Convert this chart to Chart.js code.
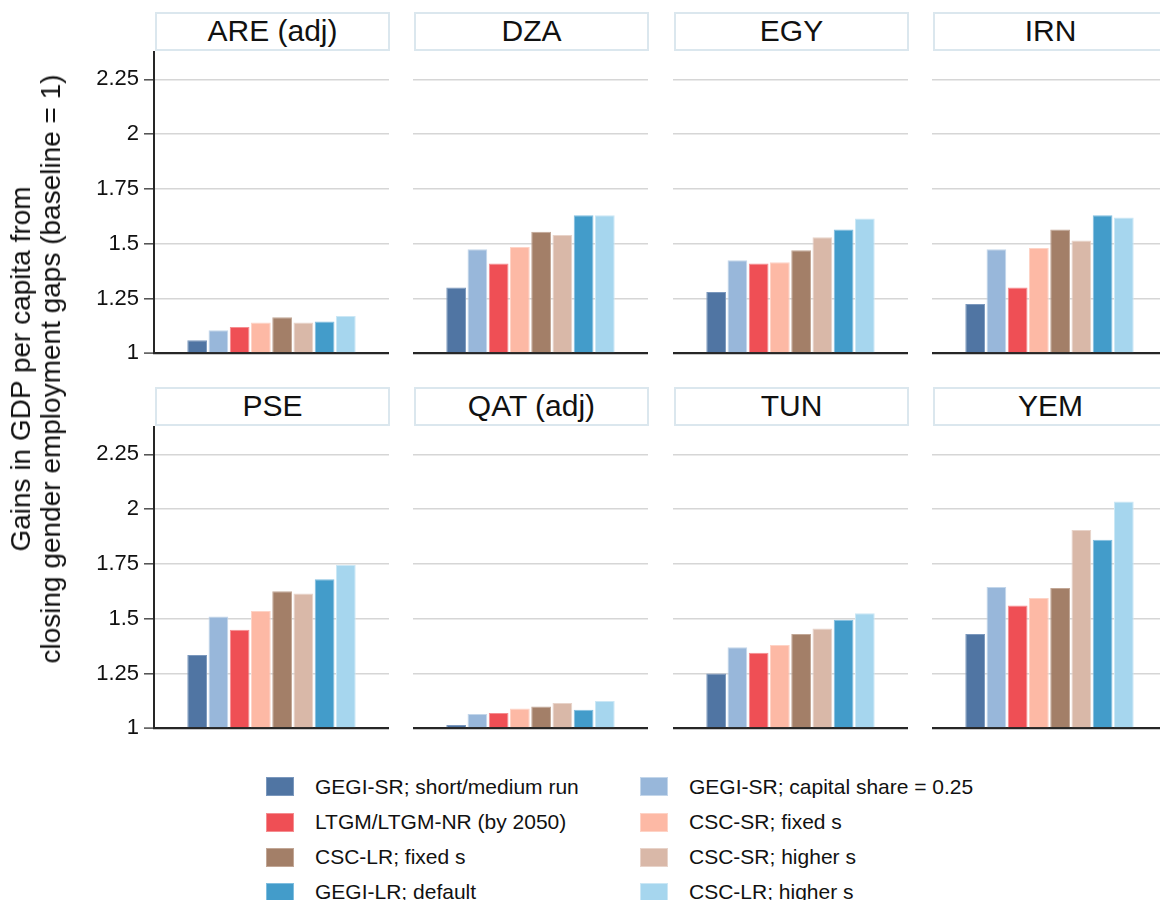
<!DOCTYPE html>
<html>
<head>
<meta charset="utf-8">
<script src="https://cdn.jsdelivr.net/npm/chart.js@4.4.1/dist/chart.umd.min.js"></script>
<style>
  html, body { margin: 0; padding: 0; background: #ffffff; overflow: hidden; }
  body { width: 1160px; height: 900px; position: relative; font-family: "Liberation Sans", Arial, Helvetica, sans-serif; color: #111; }
  canvas { position: absolute; }
  .strip { position: absolute; box-sizing: border-box; height: 39px; border: 2px solid #dbe7ee; background: #fff;
           font-size: 30px; line-height: 33px; text-align: center; color: #111; white-space: nowrap; }
  .ytitle { position: absolute; font-size: 28px; line-height: 30px; text-align: center; white-space: nowrap; color: #111;
            transform: translate(-50%, -50%) rotate(-90deg); }
  .leg { position: absolute; font-size: 21px; line-height: 24px; white-space: nowrap; color: #111; }
  .sw { position: absolute; width: 28px; height: 19px; box-sizing: border-box; border: 1px solid; }
</style>
</head>
<body>
<script>
// Panels (one per country), in reading order
const countries = ['ARE (adj)', 'DZA', 'EGY', 'IRN', 'PSE', 'QAT (adj)', 'TUN', 'YEM'];

// Scenario names, in bar order
const seriesNames = [
  'GEGI-SR; short/medium run',
  'GEGI-SR; capital share = 0.25',
  'LTGM/LTGM-NR (by 2050)',
  'CSC-SR; fixed s',
  'CSC-LR; fixed s',
  'CSC-SR; higher s',
  'GEGI-LR; default',
  'CSC-LR; higher s'
];

// GDP per capita gains relative to baseline (= 1), one value per country
const gegiShortRun     = [1.06, 1.30, 1.28, 1.225, 1.335, 1.015, 1.25, 1.43];
const gegiCapShare     = [1.105, 1.475, 1.425, 1.475, 1.51, 1.065, 1.37, 1.645];
const ltgm2050         = [1.12, 1.41, 1.41, 1.30, 1.45, 1.07, 1.345, 1.56];
const cscShortFixed    = [1.14, 1.485, 1.415, 1.48, 1.535, 1.09, 1.38, 1.595];
const cscLongFixed     = [1.165, 1.555, 1.47, 1.565, 1.625, 1.10, 1.43, 1.64];
const cscShortHigher   = [1.14, 1.54, 1.53, 1.515, 1.615, 1.115, 1.455, 1.905];
const gegiLongDefault  = [1.145, 1.63, 1.565, 1.63, 1.68, 1.085, 1.495, 1.86];
const cscLongHigher    = [1.17, 1.63, 1.615, 1.62, 1.745, 1.125, 1.525, 2.035];

const seriesValues = [gegiShortRun, gegiCapShare, ltgm2050, cscShortFixed,
                      cscLongFixed, cscShortHigher, gegiLongDefault, cscLongHigher];

const seriesColors = ['#5075a3', '#98b7da', '#ef4f55', '#fdb9a5', '#a37f68', '#d9b8a8', '#439cca', '#a6d6ee'];
const seriesEdges  = ['#7b98bd', '#c3d6ea', '#f58d90', '#fed3c6', '#c2a796', '#e8d3c9', '#80bedf', '#cbe7f5'];

// Value axis
const yTicks      = [1, 1.25, 1.5, 1.75, 2, 2.25];
const yTickLabels = ['1', '1.25', '1.5', '1.75', '2', '2.25'];
const yMin = 1, yMax = 2.375;

const yTitleLines = ['Gains in GDP per capita from', 'closing gender employment gaps (baseline = 1)'];

// Layout of the 4 x 2 panel grid
const colLeft = [154, 413, 673, 932];
const plotW = 235;
const rowTop = [52, 427];
const plotH = 301.3;
const axisW = 94;
const pad = 28;   // room above/below the plot area for the end tick labels
const FONT = '"Liberation Sans", Arial, Helvetica, sans-serif';

countries.forEach((country, k) => {
  const c = k % 4, r = Math.floor(k / 4);
  const withAxis = c === 0;

  // panel header strip
  const strip = document.createElement('div');
  strip.className = 'strip';
  strip.textContent = country;
  strip.style.left = (colLeft[c] + 1) + 'px';
  strip.style.width = (plotW) + 'px';
  strip.style.top = (rowTop[r] - 40) + 'px';

  const cv = document.createElement('canvas');
  const left = withAxis ? colLeft[c] - axisW : colLeft[c];
  const width = withAxis ? axisW + plotW : plotW;
  const height = Math.round(plotH + 2 * pad);
  cv.width = width; cv.height = height;
  cv.style.left = left + 'px';
  cv.style.top = (rowTop[r] - pad) + 'px';
  cv.style.width = width + 'px';
  cv.style.height = height + 'px';
  document.body.appendChild(cv);
  document.body.appendChild(strip);

  new Chart(cv.getContext('2d'), {
    type: 'bar',
    data: {
      labels: [country],
      datasets: seriesNames.map((name, i) => ({
        label: name,
        data: [seriesValues[i][k]],
        base: 1,
        backgroundColor: seriesColors[i],
        borderColor: seriesEdges[i],
        borderWidth: 1,
        borderSkipped: 'bottom',
        barPercentage: 0.93,
        categoryPercentage: 0.723
      }))
    },
    options: {
      responsive: false,
      animation: false,
      devicePixelRatio: 1,
      layout: {
        autoPadding: false,
        padding: { top: pad, bottom: height - pad - plotH, left: 0, right: 0 }
      },
      plugins: { legend: { display: false }, tooltip: { enabled: false } },
      scales: {
        x: { display: false },
        y: {
          min: yMin,
          max: yMax,
          afterBuildTicks: s => { s.ticks = yTicks.map(v => ({ value: v })); },
          afterFit: s => { s.width = withAxis ? axisW : 0; },
          ticks: {
            display: withAxis,
            padding: 5,
            color: '#111',
            font: { family: FONT, size: 22 },
            callback: v => yTickLabels[yTicks.indexOf(v)]
          },
          grid: {
            color: ctx => (ctx.tick && ctx.tick.value === 1) ? '#262626' : '#d6d6d6',
            lineWidth: ctx => (ctx.tick && ctx.tick.value === 1) ? 2.2 : 1.6,
            drawTicks: withAxis,
            tickLength: 10,
            tickColor: '#4d4d4d',
            tickWidth: 1.5
          },
          border: { display: withAxis, color: '#262626', width: 2 }
        }
      }
    }
  });
});

// shared y-axis title
const yt = document.createElement('div');
yt.className = 'ytitle';
yt.innerHTML = yTitleLines.join('<br>');
yt.style.left = '36px';
yt.style.top = '369px';
document.body.appendChild(yt);

// legend: two columns, filled row by row in bar order
const legCols = [266, 640];
const legTextOff = 49;
const legRowY = [786.5, 822, 857, 892];
seriesNames.forEach((name, i) => {
  const col = i % 2, row = Math.floor(i / 2);
  const sw = document.createElement('div');
  sw.className = 'sw';
  sw.style.left = legCols[col] + 'px';
  sw.style.top = (legRowY[row] - 9.5) + 'px';
  sw.style.background = seriesColors[i];
  sw.style.borderColor = seriesEdges[i];
  document.body.appendChild(sw);
  const t = document.createElement('div');
  t.className = 'leg';
  t.textContent = name;
  t.style.left = (legCols[col] + legTextOff) + 'px';
  t.style.top = (legRowY[row] - 12) + 'px';
  document.body.appendChild(t);
});
</script>
</body>
</html>
